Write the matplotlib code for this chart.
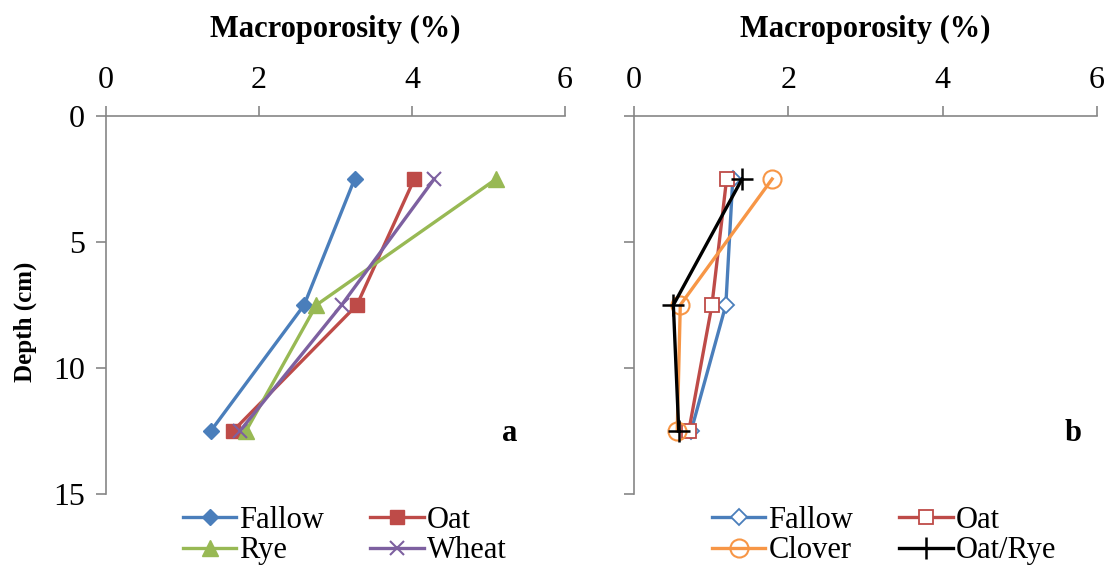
import matplotlib
matplotlib.use("Agg")
import matplotlib.pyplot as plt

plt.rcParams['font.family'] = ['Liberation Serif', 'DejaVu Serif']

depth = [2.5, 7.5, 12.5]

# panel a: solid markers
a_names = ['Fallow', 'Oat', 'Rye', 'Wheat']
a_fallow = [3.25, 2.59, 1.37]
a_oat = [4.03, 3.28, 1.66]
a_rye = [5.10, 2.75, 1.83]
a_wheat = [4.29, 3.08, 1.75]

# panel b: open markers
b_names = ['Fallow', 'Oat', 'Clover', 'Oat/Rye']
b_fallow = [1.28, 1.19, 0.74]
b_oat = [1.20, 1.01, 0.71]
b_clover = [1.79, 0.60, 0.56]
b_oatrye = [1.40, 0.51, 0.58]

x_ticks = [0, 2, 4, 6]
y_ticks = [0, 5, 10, 15]

blue = '#4A7EBB'
red = '#BE4B48'
green = '#98B954'
purple = '#7D60A0'
orange = '#F79646'
grey = '#868686'

W, H = 1112, 571
fig = plt.figure(figsize=(W / 100, H / 100), dpi=100)
ax_a = fig.add_axes([106 / W, 1 - 494 / H, (565 - 106) / W, (494 - 116) / H])
ax_b = fig.add_axes([634 / W, 1 - 494 / H, (1097 - 634) / W, (494 - 116) / H])


def style_axis(ax):
    ax.set_xlim(0, 6)
    ax.set_ylim(15, 0)
    ax.set_xticks(x_ticks)
    ax.set_yticks(y_ticks)
    ax.xaxis.tick_top()
    ax.xaxis.set_label_position('top')
    for side in ['right', 'bottom']:
        ax.spines[side].set_visible(False)
    for side in ['left', 'top']:
        ax.spines[side].set_color(grey)
        ax.spines[side].set_linewidth(1.2)
    ax.tick_params(direction='out', length=7, width=1.2, color=grey,
                   labelsize=23, pad=8)
    ax.set_xlabel('Macroporosity (%)', fontsize=22, fontweight='bold', labelpad=21)


def add_legend(ax, xc):
    handles, labels = ax.get_legend_handles_labels()
    # legend fills column-wise, so reorder to read across rows
    order = [0, 2, 1, 3]
    ax.legend([handles[i] for i in order], [labels[i] for i in order],
              loc='upper center', bbox_to_anchor=(xc, 0.017), ncol=2, frameon=False,
              fontsize=22, handlelength=1.75, handletextpad=0.1, columnspacing=1.5,
              labelspacing=0.05, borderpad=0.1)


lw = 2.4
ax_a.plot(a_fallow, depth, color=blue, lw=lw, marker='D', ms=8, label=a_names[0])
ax_a.plot(a_oat, depth, color=red, lw=lw, marker='s', ms=10, label=a_names[1])
ax_a.plot(a_rye, depth, color=green, lw=lw, marker='^', ms=11, label=a_names[2])
ax_a.plot(a_wheat, depth, color=purple, lw=lw, marker='x', ms=10, mew=1.5, label=a_names[3])
style_axis(ax_a)
ax_a.set_ylabel('Depth (cm)', fontsize=18, fontweight='bold')
ax_a.yaxis.set_label_coords(-0.150, 0.455)
ax_a.text(5.28, 12.6, 'a', fontsize=22, fontweight='bold', ha='center', va='center')
add_legend(ax_a, 0.52)

ax_b.plot(b_fallow, depth, color=blue, lw=lw, marker='D', ms=8, mfc='white', mew=1.3, label=b_names[0])
ax_b.plot(b_oat, depth, color=red, lw=lw, marker='s', ms=10, mfc='white', mew=1.3, label=b_names[1])
ax_b.plot(b_clover, depth, color=orange, lw=lw, marker='o', ms=13, mfc='none', mew=1.5, label=b_names[2])
ax_b.plot(b_oatrye, depth, color='black', lw=lw, marker='+', ms=16, mew=1.8, label=b_names[3])
style_axis(ax_b)
ax_b.set_yticklabels([])
ax_b.text(5.69, 12.6, 'b', fontsize=22, fontweight='bold', ha='center', va='center')
add_legend(ax_b, 0.54)

fig.savefig('out.png', dpi=100)
